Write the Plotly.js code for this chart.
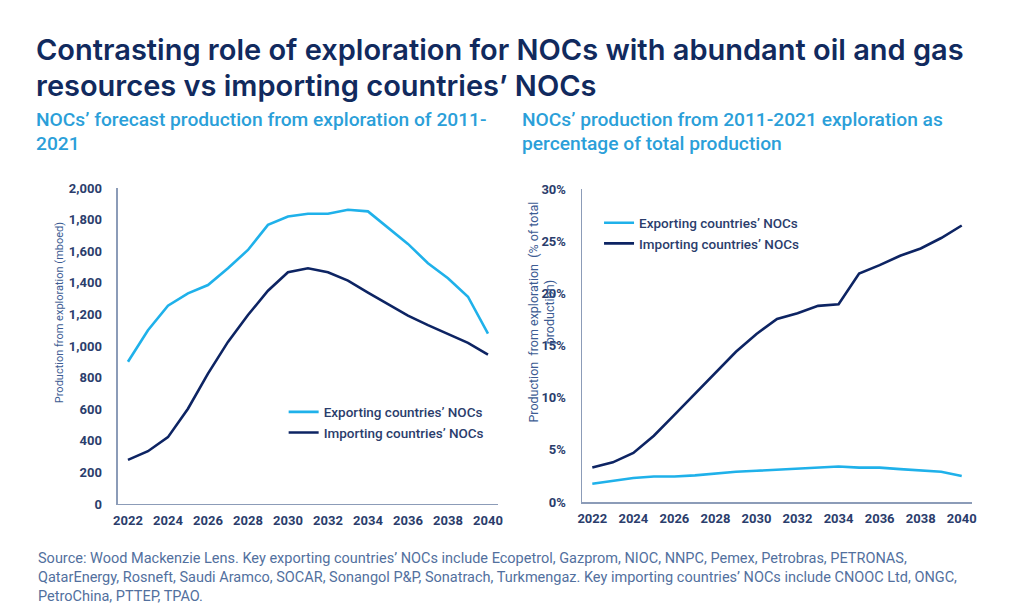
<!DOCTYPE html>
<html>
<head>
<meta charset="utf-8">
<script src="https://cdn.plot.ly/plotly-3.0.1.min.js"></script>
<style>
  html, body { margin: 0; padding: 0; background: #fff; }
  #chart { width: 1024px; height: 614px; }
</style>
</head>
<body>
<div id="chart"></div>
<script>
// years on both panels
var years = [2022, 2023, 2024, 2025, 2026, 2027, 2028, 2029, 2030, 2031,
             2032, 2033, 2034, 2035, 2036, 2037, 2038, 2039, 2040];

// left panel: production from exploration, mboed
var exportMboed = [900, 1100, 1255, 1333, 1386, 1492, 1608, 1767, 1820, 1837,
                   1837, 1862, 1852, 1746, 1646, 1524, 1429, 1312, 1079];
var importMboed = [279, 334, 423, 603, 825, 1026, 1196, 1350, 1467, 1492,
                   1467, 1414, 1338, 1263, 1192, 1132, 1075, 1020, 946];

// right panel: share of total production, %
var exportPct = [1.75, 2.05, 2.3, 2.45, 2.45, 2.55, 2.75, 2.9, 3.0, 3.1,
                 3.2, 3.3, 3.4, 3.3, 3.3, 3.15, 3.05, 2.9, 2.5];
var importPct = [3.3, 3.8, 4.7, 6.35, 8.35, 10.4, 12.4, 14.4, 16.1, 17.55,
                 18.1, 18.8, 18.95, 21.9, 22.7, 23.6, 24.3, 25.3, 26.5];

var seriesNames = ["Exporting countries\u2019 NOCs", "Importing countries\u2019 NOCs"];
var xTicks = [2022, 2024, 2026, 2028, 2030, 2032, 2034, 2036, 2038, 2040];

var titleLines = ["Contrasting role of exploration for NOCs with abundant oil and gas",
                  "resources vs importing countries\u2019 NOCs"];
var leftSubtitle = ["NOCs\u2019 forecast production from exploration of 2011-", "2021"];
var rightSubtitle = ["NOCs\u2019 production from 2011-2021 exploration as",
                     "percentage of total production"];
var sourceNote = "Source: Wood Mackenzie Lens. Key exporting countries\u2019 NOCs include Ecopetrol, Gazprom, NIOC, NNPC, Pemex, Petrobras, PETRONAS,<br>" +
  "QatarEnergy, Rosneft, Saudi Aramco, SOCAR, Sonangol P&P, Sonatrach, Turkmengaz. Key importing countries\u2019 NOCs include CNOOC Ltd, ONGC,<br>" +
  "PetroChina, PTTEP, TPAO.";

var lightBlue = "#1fb1ea";
var navy = "#0d2463";
var tickColor = "#2b3d6c";
var axisColor = "#8c9cb8";
var subColor = "#2b9fd9";

var traces = [
  { x: years, y: exportMboed, name: seriesNames[0], type: "scatter", mode: "lines",
    line: { color: lightBlue, width: 2.6 }, xaxis: "x", yaxis: "y", legend: "legend" },
  { x: years, y: importMboed, name: seriesNames[1], type: "scatter", mode: "lines",
    line: { color: navy, width: 2.6 }, xaxis: "x", yaxis: "y", legend: "legend" },
  { x: years, y: exportPct, name: seriesNames[0], type: "scatter", mode: "lines",
    line: { color: lightBlue, width: 2.6 }, xaxis: "x2", yaxis: "y2", legend: "legend2" },
  { x: years, y: importPct, name: seriesNames[1], type: "scatter", mode: "lines",
    line: { color: navy, width: 2.6 }, xaxis: "x2", yaxis: "y2", legend: "legend2" }
];

var tickFont = { family: "Roboto", size: 13, color: tickColor, weight: "bold" };

function xAxis(domain, anchor) {
  return {
    domain: domain, anchor: anchor, range: [2021.5, 2040.5],
    tickvals: xTicks, ticks: "", showgrid: false, zeroline: false,
    showline: true, linecolor: axisColor, linewidth: 1.5,
    tickfont: tickFont, ticklabelstandoff: 4, fixedrange: true
  };
}

function textLine(text, x, ypx, font) {
  return { text: text, xref: "paper", yref: "paper", x: x, y: 1 - ypx / 614,
           xanchor: "left", yanchor: "middle", align: "left", showarrow: false, font: font };
}

var titleFont = { family: "Inter", size: 29, color: "#112a5e", weight: 600 };
var subFont = { family: "Roboto", size: 19.2, color: subColor, weight: 500 };
var legendFont = { family: "Roboto", size: 13.5, color: tickColor, weight: 500 };

var layout = {
  width: 1024, height: 614,
  margin: { l: 0, r: 0, t: 0, b: 0 },
  paper_bgcolor: "#fff", plot_bgcolor: "#fff",
  showlegend: true,
  xaxis: xAxis([0.1152, 0.4863], "y"),
  xaxis2: xAxis([0.5684, 0.9492], "y2"),
  yaxis: {
    domain: [0.1792, 0.6938], anchor: "x", range: [0, 2000],
    dtick: 200, tickformat: ",d", ticks: "", showgrid: false, zeroline: false,
    showline: true, linecolor: axisColor, linewidth: 1.5,
    tickfont: tickFont, ticklabelstandoff: 12, fixedrange: true
  },
  yaxis2: {
    domain: [0.1824, 0.6922], anchor: "x2", range: [0, 30],
    dtick: 5, ticksuffix: "%", ticks: "", showgrid: false, zeroline: false,
    showline: true, linecolor: axisColor, linewidth: 1.5,
    tickfont: tickFont, ticklabelstandoff: 12, fixedrange: true
  },
  legend: {
    x: 0.277, y: 0.354, xanchor: "left", yanchor: "top",
    font: legendFont, bgcolor: "rgba(0,0,0,0)", tracegroupgap: 0
  },
  legend2: {
    x: 0.585, y: 0.662, xanchor: "left", yanchor: "top",
    font: legendFont, bgcolor: "rgba(0,0,0,0)", tracegroupgap: 0
  },
  annotations: [
    textLine(titleLines[0], 0.033, 49, titleFont),
    textLine(titleLines[1], 0.033, 85, titleFont),
    textLine(leftSubtitle[0], 0.033, 120, subFont),
    textLine(leftSubtitle[1], 0.033, 143, subFont),
    textLine(rightSubtitle[0], 0.508, 120, subFont),
    textLine(rightSubtitle[1], 0.508, 143, subFont),
    { text: "Production from exploration (mboed)",
      xref: "paper", yref: "paper", x: 0.0576, y: 0.4915, xanchor: "center", textangle: -90,
      showarrow: false, font: { family: "Roboto", size: 11, color: "#3d5c93" } },
    { text: "Production  from exploration  (% of total<br>production)",
      xref: "paper", yref: "paper", x: 0.529, y: 0.492, xanchor: "center", textangle: -90,
      showarrow: false, font: { family: "Roboto", size: 12.5, color: "#3d5c93" } },
    { text: sourceNote,
      xref: "paper", yref: "paper", x: 0.035, y: 0.107, xanchor: "left", yanchor: "top",
      align: "left", showarrow: false,
      font: { family: "Roboto", size: 14.5, color: "#52709e" } }
  ]
};

Plotly.newPlot("chart", traces, layout, { displayModeBar: false, staticPlot: true });
</script>
</body>
</html>
